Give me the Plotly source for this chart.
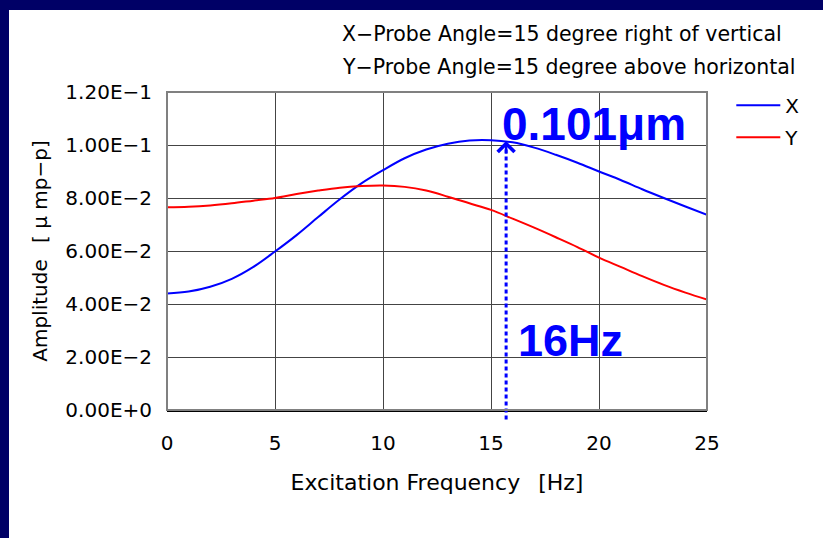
import plotly.graph_objects as go

# ---- data ----
freq_hz = list(range(0, 26))
amp_x = [0.0440, 0.0447, 0.0465, 0.0495, 0.0540, 0.0598, 0.0660, 0.0728, 0.0795, 0.0855,
         0.0905, 0.0950, 0.0983, 0.1005, 0.1017, 0.1018, 0.1010, 0.0990, 0.0963, 0.0933,
         0.0900, 0.0868, 0.0833, 0.0800, 0.0768, 0.0737]
amp_y = [0.0765, 0.0767, 0.0772, 0.0780, 0.0790, 0.0800, 0.0815, 0.0828, 0.0839, 0.0845,
         0.0847, 0.0842, 0.0828, 0.0805, 0.0780, 0.0755, 0.0722, 0.0688, 0.0652, 0.0615,
         0.0575, 0.0540, 0.0505, 0.0472, 0.0443, 0.0417]
series_names = ["X", "Y"]
x_ticks = [0, 5, 10, 15, 20, 25]
y_ticks = [0, 0.02, 0.04, 0.06, 0.08, 0.10, 0.12]
y_tick_labels = ["0.00E+0", "2.00E\u22122", "4.00E\u22122", "6.00E\u22122",
                 "8.00E\u22122", "1.00E\u22121", "1.20E\u22121"]
peak_freq = 15.7
peak_amp = 0.1015
peak_label = "0.101\u03bcm"
freq_label = "16Hz"
note_lines = ["X\u2212Probe Angle=15 degree right of vertical",
              "Y\u2212Probe Angle=15 degree above horizontal"]

X_MAX = 25
Y_MAX = 0.12

FONT = "DejaVu Sans"
NAVY = "#000066"

fig = go.Figure()
fig.add_trace(go.Scatter(x=freq_hz, y=amp_x, name=series_names[0], mode="lines",
                         line=dict(color="#0000ff", width=2, shape="spline"),
                         legendgroup="a"))
fig.add_trace(go.Scatter(x=freq_hz, y=amp_y, name=series_names[1], mode="lines",
                         line=dict(color="#ff0000", width=2, shape="spline"),
                         legendgroup="b"))

# dotted marker line (from below the axis up to the peak)
fig.add_shape(type="line", xref="x", yref="paper",
              x0=peak_freq, x1=peak_freq, y0=-0.03, y1=peak_amp / Y_MAX - 0.01,
              line=dict(color="#0000ff", width=3, dash="4px,3px"))
# arrow head
fig.add_annotation(x=peak_freq, y=peak_amp, xref="x", yref="y", text="",
                   showarrow=True, arrowhead=4, arrowwidth=2.5, arrowsize=1.3,
                   arrowcolor="#0000ff", ax=0, ay=14, standoff=0)

fig.add_annotation(x=15.42, y=0.1080, xref="x", yref="y", text="<b>%s</b>" % peak_label,
                   showarrow=False, xanchor="left", yanchor="middle",
                   font=dict(family="Liberation Sans", size=46, color="#0000ff"))
fig.add_annotation(x=16.15, y=0.0262, xref="x", yref="y", text="<b>%s</b>" % freq_label,
                   showarrow=False, xanchor="left", yanchor="middle",
                   font=dict(family="Liberation Sans", size=45, color="#0000ff"))

for i, (txt, yp) in enumerate(zip(note_lines, [1.182, 1.078])):
    fig.add_annotation(x=0.3204, y=yp, xref="paper", yref="paper", text=txt,
                       showarrow=False, xanchor="left", yanchor="middle",
                       font=dict(family=FONT, size=20.5, color="#000000"))

# plot-area border
fig.add_shape(type="rect", xref="paper", yref="paper", x0=0, x1=1, y0=0, y1=1,
              line=dict(color="#808080", width=2), layer="above")

# navy frame bands (top and left)
fig.add_shape(type="rect", xref="paper", yref="paper",
              x0=-0.32, x1=1.23, y0=(410 - 10) / 318, y1=1.30,
              line=dict(width=0), fillcolor=NAVY)
fig.add_shape(type="rect", xref="paper", yref="paper",
              x0=-0.32, x1=(9 - 167) / 540, y0=-0.42, y1=1.30,
              line=dict(width=0), fillcolor=NAVY)

fig.update_layout(
    width=823, height=538, autosize=False,
    margin=dict(l=167, r=116, t=92, b=128),
    paper_bgcolor="#ffffff", plot_bgcolor="#ffffff",
    font=dict(family=FONT, size=20, color="#000000"),
    showlegend=True,
    legend=dict(x=1.045, y=1.02, xanchor="left", yanchor="top",
                font=dict(family=FONT, size=20), tracegroupgap=3,
                bgcolor="rgba(0,0,0,0)", itemwidth=44),
)
fig.update_xaxes(range=[0, X_MAX], tickvals=x_ticks, showgrid=True,
                 gridcolor="#444444", gridwidth=1, zeroline=False,
                 showline=True, linecolor="#000000", linewidth=2,
                 ticks="inside", ticklen=5, tickcolor="#444444",
                 ticklabelstandoff=14,
                 tickfont=dict(family=FONT, size=20),
                 title=dict(text="Excitation Frequency\u2002 [Hz]", standoff=21,
                            font=dict(family=FONT, size=22)))
fig.update_yaxes(range=[0, Y_MAX], tickvals=y_ticks, ticktext=y_tick_labels,
                 showgrid=True, gridcolor="#444444", gridwidth=1, zeroline=False,
                 showline=False, ticks="inside", ticklen=8, tickcolor="#444444",
                 ticklabelstandoff=14,
                 tickfont=dict(family=FONT, size=20),
                 title=dict(text="Amplitude\u2002 [ \u03bc mp\u2212p]", standoff=12,
                            font=dict(family=FONT, size=20)))

fig.write_html("out.html", config={"displayModeBar": False},
               post_script="document.body.style.margin='0';document.body.style.overflow='hidden';")
